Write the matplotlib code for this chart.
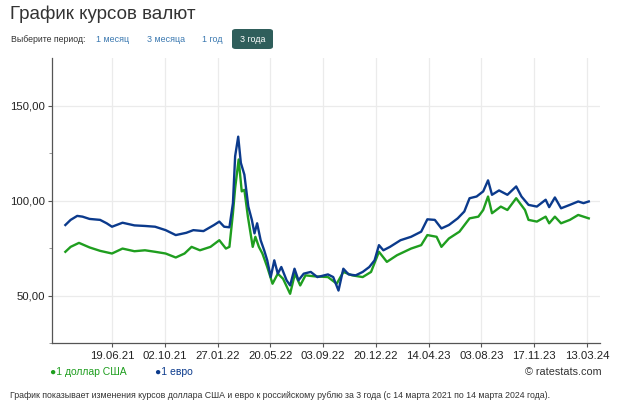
import matplotlib
matplotlib.use("Agg")
import matplotlib.pyplot as plt
from matplotlib.patches import FancyBboxPatch

plt.rcParams['font.family'] = ['Liberation Sans', 'DejaVu Sans']

# ---- data (x = trading-day index on evenly spaced axis) ----
tick_labels = ["19.06.21", "02.10.21", "27.01.22", "20.05.22", "03.09.22",
               "20.12.22", "14.04.23", "03.08.23", "17.11.23", "13.03.24"]
tick_pos = [11, 23, 35, 47, 59, 71, 83, 95, 107, 119]

eur_x = [0.4, 1.6, 3.1, 4.3, 5.9, 8.3, 9.8, 11, 13.4, 16.1, 18.5, 20.8, 23.2, 25.5,
         27.9, 29.5, 31.8, 34.2, 35.4, 36.5, 37.7, 38.5, 39.0, 39.7, 40.3, 41.1,
         42.0, 42.8, 43.4, 44.0, 44.8, 45.6, 46.3, 47.1, 47.9, 48.7, 49.5, 50.7,
         51.5, 52.5, 53.4, 54.6, 56.2, 57.7, 60.1, 61.3, 62.5, 63.6, 64.8, 66.4,
         68.0, 69.5, 70.7, 71.7, 72.7, 74.2, 76.6, 79.0, 81.3, 82.7, 84.4, 85.9,
         87.6, 89.6, 91.1, 92.3, 93.9, 95.4, 96.5, 97.4, 99.0, 100.9, 102.9, 104.1,
         105.7, 107.6, 109.6, 110.4, 111.7, 113.1, 115.1, 117.0, 118.2, 119.4]
eur_v = [87.1, 89.8, 91.9, 91.5, 90.3, 89.8, 88.0, 86.2, 88.3, 86.9, 86.6, 86.2, 84.4, 81.8,
         83.0, 84.4, 83.9, 87.1, 88.9, 86.2, 85.9, 98.6, 123.3, 133.6, 119.8, 113.6,
         96.8, 89.8, 82.7, 88.0, 79.1, 73.8, 68.5, 59.7, 68.5, 61.5, 65.0, 58.0,
         55.3, 64.1, 58.0, 61.5, 62.4, 59.7, 61.1, 59.7, 52.6, 64.1, 61.1, 60.6,
         62.4, 65.0, 68.5, 76.5, 73.8, 75.6, 79.1, 80.9, 83.6, 90.1, 89.8, 85.3,
         87.1, 90.6, 94.2, 101.2, 102.1, 104.8, 110.6, 103.0, 105.3, 103.0, 107.4, 102.1,
         97.7, 96.8, 100.4, 96.5, 101.6, 95.9, 97.7, 99.5, 98.6, 99.5]

usd_x = [0.4, 1.6, 3.5, 5.9, 8.3, 11, 13.4, 16.1, 18.5, 20.8, 23.2, 25.5, 27.5, 29.1,
         31.0, 33.4, 35.4, 36.9, 37.7, 38.5, 39.0, 39.8, 40.5, 41.1, 41.9, 43.0,
         43.6, 44.4, 45.2, 46.3, 47.5, 48.7, 49.9, 51.5, 52.6, 53.8, 55.0, 57.0,
         60.1, 62.1, 63.6, 65.6, 68.0, 69.9, 71.7, 73.5, 75.8, 79.0, 81.3, 82.7,
         84.8, 85.9, 87.6, 90.0, 92.3, 94.3, 95.4, 96.5, 97.4, 99.4, 100.9, 102.9,
         104.9, 105.7, 107.6, 109.6, 110.4, 111.7, 113.1, 115.1, 117.0, 119.4]
usd_v = [73.0, 75.6, 77.7, 75.3, 73.5, 72.1, 74.7, 73.3, 73.8, 73.0, 72.1, 70.0, 72.1, 75.6,
         73.8, 75.6, 79.1, 74.7, 75.6, 93.3, 106.5, 121.6, 104.8, 105.6, 91.5, 75.6,
         80.9, 75.6, 72.1, 65.0, 56.2, 61.5, 58.8, 50.9, 61.5, 55.3, 60.6, 60.1,
         59.7, 56.2, 62.4, 60.6, 59.7, 62.4, 73.0, 67.7, 71.2, 74.7, 76.5, 81.8,
         80.9, 75.6, 80.0, 83.6, 90.6, 91.5, 95.0, 102.1, 93.3, 96.8, 95.0, 101.2,
         95.0, 89.8, 88.9, 91.5, 88.0, 91.5, 88.0, 89.8, 92.4, 90.6]

y_ticks = [50, 100, 150]
y_labels = ["50,00", "100,00", "150,00"]

GREEN = "#1f9e1f"
BLUE = "#0b3a8c"

fig = plt.figure(figsize=(6.2, 4.05), dpi=100)
ax = fig.add_axes([51.7 / 620, (405 - 343) / 405, (600 - 51.7) / 620, (343 - 58) / 405])

ax.plot(usd_x, usd_v, color=GREEN, lw=1.7, solid_joinstyle='round', zorder=3)
ax.plot(eur_x, eur_v, color=BLUE, lw=1.7, solid_joinstyle='round', zorder=4)

px_per_t = 4.4
ax.set_xlim(11 - (112 - 51.7) / px_per_t, 119 + (600 - 587) / px_per_t)
ax.set_ylim(25, 175)

ax.set_xticks(tick_pos)
ax.set_xticklabels(tick_labels)
ax.set_yticks(y_ticks)
ax.set_yticklabels(y_labels)
ax.set_yticks([25, 75, 125], minor=True)

ax.grid(True, which='major', color='#ebebeb', lw=0.9, zorder=0)
for s in ['top', 'right']:
    ax.spines[s].set_visible(False)
for s in ['left', 'bottom']:
    ax.spines[s].set_color('#555555')
    ax.spines[s].set_linewidth(0.9)
ax.tick_params(axis='both', which='major', labelsize=8.2, colors='#555555',
               labelcolor='#222222', length=3, width=0.8)
ax.tick_params(axis='y', which='major', pad=1.5)
ax.tick_params(axis='y', which='minor', length=2, colors='#888888')
ax.tick_params(axis='x', pad=3)

# ---- header ----
fig.text(10 / 620, 1 - 14 / 405, "График курсов валют", fontsize=13.5, color='#333333',
         va='center', ha='left')
fig.text(11 / 620, 1 - 39 / 405, "Выберите период:", fontsize=6.3, color='#333333',
         va='center', ha='left')
link = '#3a78b0'
fig.text(96 / 620, 1 - 39 / 405, "1 месяц", fontsize=6.4, color=link, va='center')
fig.text(147 / 620, 1 - 39 / 405, "3 месяца", fontsize=6.4, color=link, va='center')
fig.text(202 / 620, 1 - 39 / 405, "1 год", fontsize=6.4, color=link, va='center')
btn = FancyBboxPatch((232 / 620, 1 - 49 / 405), 41 / 620, 20 / 405,
                     boxstyle="round,pad=0,rounding_size=0.006",
                     transform=fig.transFigure, facecolor='#2f5e5b', edgecolor='none')
fig.patches.append(btn)
fig.text(252.5 / 620, 1 - 39.5 / 405, "3 года", fontsize=6.4, color='white',
         va='center', ha='center')

# ---- legend ----
fig.text(50 / 620, 1 - 372 / 405, "●1 доллар США", fontsize=7.5, color=GREEN,
         va='center', ha='left', family=['Liberation Sans', 'DejaVu Sans'])
fig.text(155 / 620, 1 - 372 / 405, "●1 евро", fontsize=7.5, color=BLUE,
         va='center', ha='left', family=['Liberation Sans', 'DejaVu Sans'])
fig.text(602 / 620, 1 - 372 / 405, "© ratestats.com", fontsize=7.8, color='#333333',
         va='center', ha='right')

# ---- footer ----
fig.text(10 / 620, 1 - 396 / 405,
         "График показывает изменения курсов доллара США и евро к российскому рублю за 3 года (с 14 марта 2021 по 14 марта 2024 года).",
         fontsize=6.3, color='#333333', va='center', ha='left')

fig.savefig("out.png", dpi=100)
